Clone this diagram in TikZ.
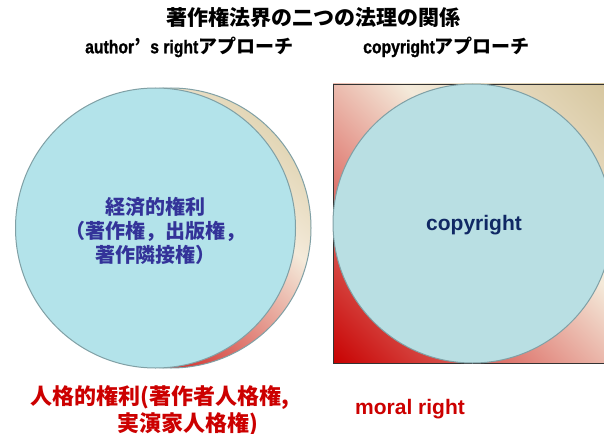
\documentclass[tikz,border=0pt]{standalone}
\usepackage{fontspec}
\setmainfont{Liberation Sans}
\newfontfamily\jp{Noto Sans CJK JP}
\newfontfamily\latn{Liberation Sans Bold}[FakeStretch=0.85, FakeBold=1.2]
\definecolor{gR}{RGB}{200,0,0}
\definecolor{gC}{RGB}{244,234,218}
\definecolor{gT}{RGB}{214,198,158}
\definecolor{cT}{RGB}{225,213,180}
\definecolor{cyanL}{RGB}{179,227,234}
\definecolor{cyanR}{RGB}{185,223,227}
\definecolor{rimC}{RGB}{128,160,165}
\definecolor{txtB}{RGB}{51,51,153}
\definecolor{txtN}{RGB}{16,40,100}
\definecolor{txtR}{RGB}{204,0,0}
\tikzset{
  ttl/.style={font=\jp\bfseries\fontsize{21}{24}\selectfont, text=black, inner sep=0pt},
  sub/.style={font=\jp\bfseries\fontsize{19}{22}\selectfont, text=black, inner sep=0pt, anchor=west},
  rim/.style={draw=rimC, line width=1pt},
  bluetxt/.style={font=\jp\bfseries\fontsize{20}{24}\selectfont, text=txtB, align=center, inner sep=0pt},
  navytxt/.style={font=\bfseries\fontsize{21}{24}\selectfont, text=txtN, inner sep=0pt},
  redjp/.style={font=\jp\bfseries\fontsize{22}{26}\selectfont, text=txtR, inner sep=0pt, anchor=west},
  redlat/.style={font=\bfseries\fontsize{21}{24}\selectfont, text=txtR, inner sep=0pt, anchor=west},
}
\newcommand{\lt}[1]{{\latn\fontsize{18.5}{22}\selectfont #1}}
\begin{document}
\begin{tikzpicture}[x=1pt,y=-1pt]
\useasboundingbox[fill=white] (0,0) rectangle (604,433);
% titles
\node[ttl] (title) at (313,18) {著作権法界の二つの法理の関係};
\node[sub] (subL) at (85,47) {\lt{author}\makebox[0.85em][l]{’}\lt{s right}アプローチ};
\node[sub] (subR) at (363,47) {\lt{copyright}アプローチ};
% left: back crescent circle with gradient
\coordinate (cb) at (171,228);
\begin{scope}
  \clip (cb) circle[radius=140];
  \shade[transform canvas={shift={(171,228)},rotate=45}, left color=gR, right color=gC] (-142,-150) rectangle (71,150);
  \shade[transform canvas={shift={(171,228)},rotate=45}, left color=gC, right color=cT] (70,-150) rectangle (142,150);
\end{scope}
\draw[rim] (cb) circle[radius=140];
% left: front circle
\node[circle, minimum size=280pt, inner sep=0pt, fill=cyanL, rim] (econ) at (155.5,228) {};
\node[bluetxt] (econtxt) at (155,231) {経済的権利\\（著作権，出版権，\\著作隣接権）};
% right: gradient square
\coordinate (sq1) at (333,84);
\coordinate (sq2) at (606,363);
\begin{scope}
  \clip (sq1) rectangle (sq2);
  \shade[transform canvas={shift={(469.5,223.5)},rotate=45}, left color=gR, right color=gC] (-196,-205) rectangle (52,205);
  \shade[transform canvas={shift={(469.5,223.5)},rotate=45}, left color=gC, right color=gT] (51,-205) rectangle (196,205);
\end{scope}
\draw[draw=black!80, line width=0.9pt] (sq1) rectangle (sq2);
\node[circle, minimum size=279pt, inner sep=0pt, fill=cyanR, rim] (copy) at (472.5,223.5) {};
\node[navytxt] (copytxt) at (474,225) {copyright};
% bottom labels
\node[redjp] (moralL1) at (30,398) {人格的権利(著作者人格権,};
\node[redjp] (moralL2) at (117,424) {実演家人格権)};
\node[redlat] (moralR) at (355,409) {moral right};
\end{tikzpicture}
\end{document}
